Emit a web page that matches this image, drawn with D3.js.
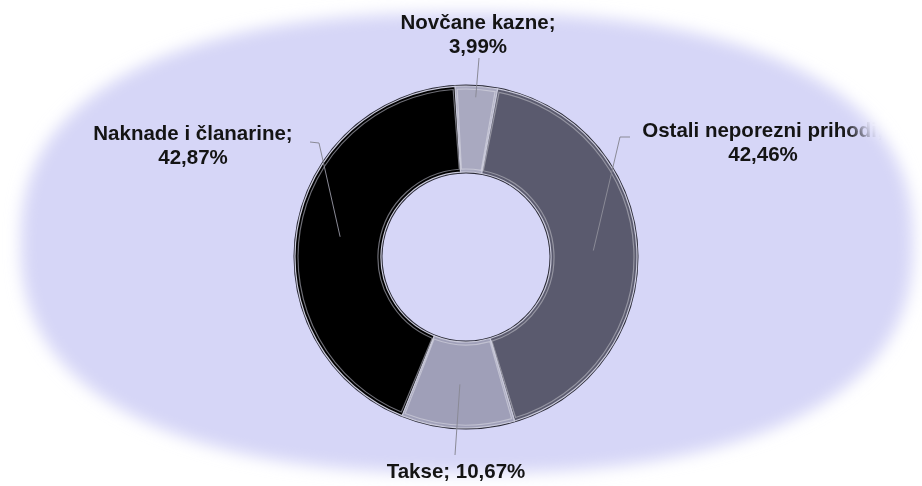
<!DOCTYPE html>
<html>
<head>
<meta charset="utf-8">
<script src="https://cdn.jsdelivr.net/npm/d3@7"></script>
<style>
  html, body { margin: 0; padding: 0; background: #ffffff; }
  svg { display: block; }
</style>
</head>
<body>
<script>
// ---- data ----
const categories = ["Novčane kazne", "Ostali neporezni prihodi", "Takse", "Naknade i članarine"];
const values = [3.99, 42.46, 10.67, 42.87];
const sliceColors = ["#a9a9c0", "#5a5a6e", "#9f9fb8", "#000000"];

// ---- layout (label anchors, leader elbows) ----
const labelLayout = [
  { x: 478, y: 29, oneLine: false, elbows: [[479, 58]], leaderR: 160 },
  { x: 763, y: 137, oneLine: false, elbows: [[630, 137], [620, 137]], leaderR: 127.5 },
  { x: 456, y: 478, oneLine: true, elbows: [[455, 455]], leaderR: 127.5 },
  { x: 193, y: 140, oneLine: false, elbows: [[310, 142], [319, 143]], leaderR: 127.5 }
];

const W = 922, H = 486;
const cx = 466, cy = 257, rOuter = 171, rInner = 85;
const start = -3.7 * Math.PI / 180;

const fmt = d3.formatLocale({ decimal: ",", thousands: ".", grouping: [3], currency: ["", ""] }).format(".2f");

const svg = d3.select("body").append("svg").attr("width", W).attr("height", H);
const defs = svg.append("defs");

defs.append("filter").attr("id", "blurBg").attr("x", "-10%").attr("y", "-10%").attr("width", "120%").attr("height", "120%")
  .append("feGaussianBlur").attr("stdDeviation", 8);
defs.append("filter").attr("id", "blurSm")
  .append("feGaussianBlur").attr("stdDeviation", 1.2);

// superellipse path generator
function superEllipse(ecx, ecy, rx, ry, n) {
  const pts = d3.range(0, 361, 1).map(deg => {
    const t = deg * Math.PI / 180;
    const c = Math.cos(t), s = Math.sin(t);
    return [ecx + rx * Math.sign(c) * Math.pow(Math.abs(c), 2 / n),
            ecy + ry * Math.sign(s) * Math.pow(Math.abs(s), 2 / n)];
  });
  return d3.line()(pts) + "Z";
}

const mask = defs.append("mask").attr("id", "labelMask").attr("maskUnits", "userSpaceOnUse")
  .attr("x", 0).attr("y", 0).attr("width", W).attr("height", H);
mask.append("rect").attr("width", W).attr("height", H).attr("fill", "black");
mask.append("path").attr("d", superEllipse(467, 243, 416, 262, 2.4))
  .attr("fill", "white").attr("filter", "url(#blurBg)");

// background shape
svg.append("path").attr("d", superEllipse(467, 243, 446, 230, 2.4))
  .attr("fill", "#d6d6f7").attr("filter", "url(#blurBg)");
svg.append("line").attr("x1", 14).attr("x2", 14).attr("y1", 197).attr("y2", 277)
  .attr("stroke", "#c4c4c4").attr("stroke-width", 2).attr("filter", "url(#blurSm)");

const pie = d3.pie().sort(null).value(d => d).startAngle(start).endAngle(start + 2 * Math.PI);
const arcsData = pie(values);

const g = svg.append("g").attr("transform", `translate(${cx},${cy})`);

// outer dark border ring
g.append("path")
  .attr("d", d3.arc().innerRadius(rInner - 1.5).outerRadius(rOuter + 1.5)({ startAngle: 0, endAngle: 2 * Math.PI }))
  .attr("fill", "#2a2a36");

const arcMain = d3.arc().innerRadius(rInner).outerRadius(rOuter);
g.selectAll("path.slice").data(arcsData).join("path")
  .attr("class", "slice")
  .attr("d", arcMain)
  .attr("fill", (d, i) => sliceColors[i])
  .attr("stroke", "#c9c9da")
  .attr("stroke-width", 1.2);

// bevel highlights
const arcHi = d3.arc().innerRadius(rInner + 3).outerRadius(rOuter - 3);
g.selectAll("path.hi").data(arcsData).join("path")
  .attr("class", "hi")
  .attr("d", d => arcHi({ startAngle: d.startAngle + 0.012, endAngle: d.endAngle - 0.012 }))
  .attr("fill", "none")
  .attr("stroke", (d, i) => i === 3 ? "rgba(200,200,215,0.55)" : "rgba(255,255,255,0.35)")
  .attr("stroke-width", 1.2);

// leader lines
const lines = svg.append("g");
arcsData.forEach((d, i) => {
  const L = labelLayout[i];
  const a = (d.startAngle + d.endAngle) / 2;
  const px = cx + L.leaderR * Math.sin(a);
  const py = cy - L.leaderR * Math.cos(a);
  const pts = L.elbows.concat([[px, py]]);
  lines.append("path")
    .attr("d", d3.line()(pts))
    .attr("fill", "none")
    .attr("stroke", "#8a8a96")
    .attr("stroke-width", 1);
});

// labels
const labels = svg.append("g").attr("mask", "url(#labelMask)")
  .attr("font-family", "'Liberation Sans', Arial, sans-serif")
  .attr("font-weight", "bold").attr("font-size", 20.5).attr("fill", "#141414")
  .attr("text-anchor", "middle");
arcsData.forEach((d, i) => {
  const L = labelLayout[i];
  const pct = fmt(values[i]) + "%";
  if (L.oneLine) {
    labels.append("text").attr("x", L.x).attr("y", L.y).text(categories[i] + "; " + pct);
  } else {
    const t = labels.append("text").attr("x", L.x).attr("y", L.y);
    t.append("tspan").attr("x", L.x).text(categories[i] + ";");
    t.append("tspan").attr("x", L.x).attr("dy", 24).text(pct);
  }
});
</script>
</body>
</html>
